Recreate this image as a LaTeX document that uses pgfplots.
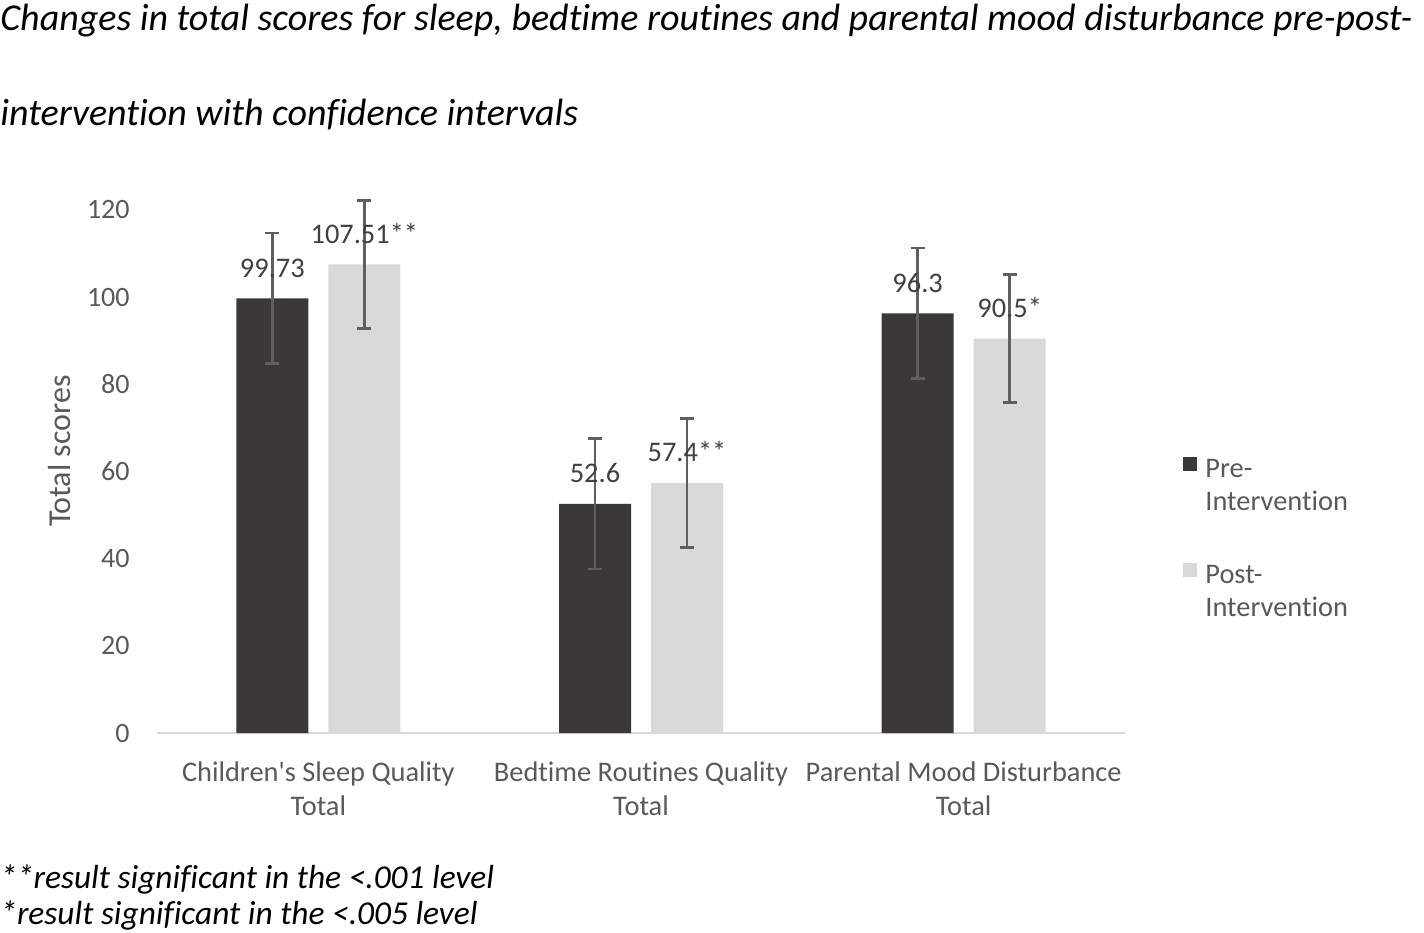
\documentclass[border=0pt]{standalone}
\usepackage{pgfplots}
\pgfplotsset{compat=1.18}
\usepackage{fontspec}
\setmainfont{Carlito}[Ligatures={TeX,NoCommon}]
\definecolor{darkbar}{HTML}{3B3838}
\definecolor{lightbar}{HTML}{D9D9D9}
\definecolor{ticktext}{HTML}{595959}
\definecolor{labtext}{HTML}{404040}
\definecolor{errc}{HTML}{5F5F5F}
\definecolor{axisc}{HTML}{D9D9D9}

\begin{document}
\begin{tikzpicture}
\useasboundingbox (0,0) rectangle (712pt,-466pt);
\node[anchor=base west, inner sep=0pt, font=\fontsize{19}{22}\selectfont\itshape] at (0pt,-15pt) {Changes in total scores for sleep, bedtime routines and parental mood disturbance pre-post-};
\node[anchor=base west, inner sep=0pt, font=\fontsize{19}{22}\selectfont\itshape] at (0pt,-62.5pt) {intervention with confidence intervals};
\node[anchor=base west, inner sep=0pt, font=\fontsize{16.7}{20}\selectfont\itshape] at (0pt,-444pt) {**result significant in the <.001 level};
\node[anchor=base west, inner sep=0pt, font=\fontsize{16.7}{20}\selectfont\itshape] at (0pt,-462pt) {*result significant in the <.005 level};
\begin{axis}[
  at={(78.5pt,-366.5pt)}, anchor=south west,
  scale only axis, width=484pt, height=261.5pt,
  xmin=-0.5, xmax=2.5, ymin=0, ymax=120,
  enlargelimits=false, clip=false,
  ybar=10pt, bar width=36pt,
  axis x line*=bottom, axis y line*=left,
  x axis line style={axisc, line width=0.75pt},
  y axis line style={draw=none},
  xtick={0,1,2},
  xticklabels={{Children\textquotesingle s Sleep Quality\\Total},{Bedtime Routines Quality\\Total},{Parental Mood Disturbance\\Total}},
  ytick={0,20,...,120},
  major tick length=0pt,
  /pgf/number format/assume math mode=true,
  xticklabel style={align=center, font=\fontsize{14.2}{17}\selectfont, text=ticktext, inner sep=0pt, anchor=north, yshift=-14pt},
  yticklabel style={font=\fontsize{14}{17}\selectfont, text=ticktext, inner sep=0pt, anchor=east, xshift=-13.5pt},
  ylabel={Total scores},
  ylabel style={at={(rel axis cs:-0.1002,0.539)}, anchor=center, font=\fontsize{16}{18}\selectfont, text=ticktext},
  point meta=explicit symbolic,
  nodes near coords,
  every node near coord/.append style={anchor=base, yshift=10.5pt, inner sep=0pt, font=\fontsize{14.2}{17}\selectfont, text=labtext},
  error bars/y dir=both, error bars/y explicit,
  error bars/error bar style={errc, line width=1.3pt},
  error bars/error mark options={errc, line width=1.3pt, mark size=3.5pt, rotate=90},
  legend image code/.code={\path (0pt,0pt); \fill[#1] (0pt,-1.5pt) rectangle (7pt,-8.5pt);},
  legend style={at={(rel axis cs:1.0599,0.5335)}, anchor=north west, draw=none, fill=none,
    inner sep=0pt, row sep=31pt, column sep=4pt,
    font=\fontsize{14.2}{16.5}\selectfont, text=ticktext,
    cells={anchor=north west}, nodes={inner sep=0pt}},
]
\addplot[fill=darkbar, draw=none] table[x=x, y=y, y error=e, meta=lab] {
x y e lab
0 99.73 15 99.73
1 52.6 15 52.6
2 96.3 15 96.3
};
\addlegendentry{\begin{tabular}{@{}l@{}}Pre-\\Intervention\end{tabular}}
\addplot[fill=lightbar, draw=none] table[x=x, y=y, y error=e, meta=lab] {
x y e lab
0 107.51 14.7 107.51**
1 57.4 14.8 57.4**
2 90.5 14.7 90.5*
};
\addlegendentry{\begin{tabular}{@{}l@{}}Post-\\Intervention\end{tabular}}
\end{axis}
\end{tikzpicture}
\end{document}
